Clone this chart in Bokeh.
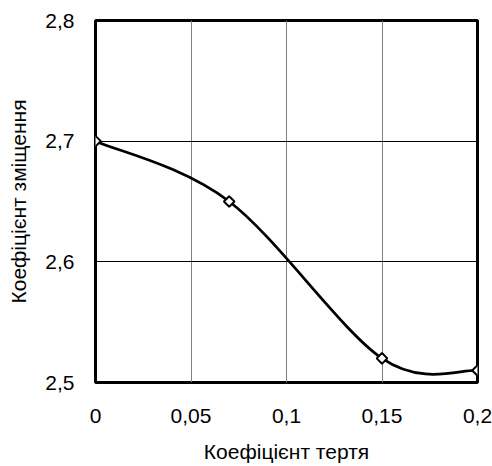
import numpy as np
from bokeh.plotting import figure
from bokeh.models import FixedTicker, Range1d
from bokeh.embed import file_html
from bokeh.resources import INLINE

# data
friction = [0.0, 0.07, 0.15, 0.2]
shift = [2.70, 2.65, 2.52, 2.51]
x_ticks = [0.0, 0.05, 0.1, 0.15, 0.2]
x_labels = ["0", "0,05", "0,1", "0,15", "0,2"]
y_ticks = [2.5, 2.6, 2.7, 2.8]
y_labels = ["2,5", "2,6", "2,7", "2,8"]
x_title = "Коефіцієнт тертя"
y_title = "Коефіцієнт зміщення"

FONT = "Liberation Sans"

p = figure(width=492, height=466, output_backend="svg", toolbar_location=None,
           x_range=Range1d(0, 0.2), y_range=Range1d(2.5, 2.8),
           min_border_left=95, min_border_right=15, min_border_top=20, min_border_bottom=84)

p.outline_line_color = "black"
p.outline_line_width = 3

# smoothed line (Catmull-Rom style Bezier segments like spreadsheet smoothing)
xs = np.array(friction)
ys = np.array(shift)
n = len(xs)
x0, y0, x1, y1, cx0, cy0, cx1, cy1 = [], [], [], [], [], [], [], []
for i in range(n - 1):
    im = max(i - 1, 0)
    ip2 = min(i + 2, n - 1)
    x0.append(xs[i]); y0.append(ys[i])
    x1.append(xs[i + 1]); y1.append(ys[i + 1])
    cx0.append(xs[i] + (xs[i + 1] - xs[im]) / 6)
    cy0.append(ys[i] + (ys[i + 1] - ys[im]) / 6)
    cx1.append(xs[i + 1] - (xs[ip2] - xs[i]) / 6)
    cy1.append(ys[i + 1] - (ys[ip2] - ys[i]) / 6)
p.bezier(x0=x0, y0=y0, x1=x1, y1=y1, cx0=cx0, cy0=cy0, cx1=cx1, cy1=cy1,
         line_color="black", line_width=2.75)
p.scatter(friction, shift, marker="square", angle=np.pi / 4, size=7.5,
          fill_color="white", line_color="black", line_width=2)

for ax, ticks, labels in ((p.xaxis[0], x_ticks, x_labels), (p.yaxis[0], y_ticks, y_labels)):
    ax.ticker = FixedTicker(ticks=ticks)
    ax.major_label_overrides = {t: l for t, l in zip(ticks, labels)}
    ax.axis_line_color = None
    ax.major_tick_line_color = None
    ax.minor_tick_line_color = None
    ax.major_label_text_font = FONT
    ax.major_label_text_font_size = "21px"
    ax.major_label_text_color = "black"
    ax.axis_label_text_font = FONT
    ax.axis_label_text_font_size = "21px"
    ax.axis_label_text_font_style = "normal"
    ax.axis_label_text_color = "black"

p.xaxis.axis_label = x_title
p.yaxis.axis_label = y_title
p.xaxis.major_label_standoff = 20
p.yaxis.major_label_standoff = 15
p.xaxis.axis_label_standoff = 14
p.yaxis.axis_label_standoff = 12

p.xgrid.ticker = FixedTicker(ticks=x_ticks)
p.ygrid.ticker = FixedTicker(ticks=y_ticks)
p.xgrid.grid_line_color = "#808080"
p.xgrid.grid_line_width = 1
p.ygrid.grid_line_color = "black"
p.ygrid.grid_line_width = 1
p.xgrid.grid_line_alpha = 1
p.ygrid.grid_line_alpha = 1

open("out.html", "w").write(file_html(p, INLINE))
